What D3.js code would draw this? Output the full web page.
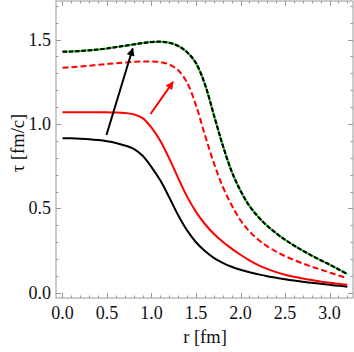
<!DOCTYPE html>
<html>
<head>
<meta charset="utf-8">
<script src="https://cdn.jsdelivr.net/npm/d3@7"></script>
<style>
  body { margin: 0; background: white; }
  text { font-family: "Liberation Serif", "DejaVu Serif", serif; fill: #111; }
</style>
</head>
<body>
<div id="chart"></div>
<script>
// radius samples (fm), 0.1 apart
var r = [0, 0.1, 0.2, 0.3, 0.4, 0.5, 0.6, 0.7, 0.8, 0.9, 1.0, 1.1, 1.2, 1.3, 1.4, 1.5, 1.6,
         1.7, 1.8, 1.9, 2.0, 2.1, 2.2, 2.3, 2.4, 2.5, 2.6, 2.7, 2.8, 2.9, 3.0, 3.1, 3.2];
// tau values (fm/c) per curve
var tauBlack = [0.915, 0.915, 0.913, 0.91, 0.905, 0.898, 0.888, 0.873, 0.853, 0.812, 0.745, 0.665, 0.565, 0.46, 0.37, 0.30, 0.248,
                0.208, 0.178, 0.155, 0.137, 0.122, 0.11, 0.099, 0.09, 0.081, 0.073, 0.066, 0.06, 0.054, 0.048, 0.042, 0.037];
var tauRed = [1.07, 1.07, 1.07, 1.07, 1.07, 1.069, 1.068, 1.065, 1.057, 1.035, 0.978, 0.90, 0.795, 0.68, 0.57, 0.48, 0.408,
              0.35, 0.303, 0.262, 0.226, 0.193, 0.165, 0.142, 0.123, 0.108, 0.096, 0.085, 0.076, 0.068, 0.06, 0.054, 0.048];
var tauRedDash = [1.333, 1.336, 1.34, 1.345, 1.35, 1.355, 1.36, 1.364, 1.368, 1.37, 1.37, 1.366, 1.352, 1.318, 1.245, 1.11, 0.935,
                  0.77, 0.63, 0.52, 0.43, 0.365, 0.315, 0.276, 0.245, 0.218, 0.195, 0.174, 0.155, 0.138, 0.121, 0.104, 0.087];
var tauTop = [1.428, 1.429, 1.432, 1.436, 1.441, 1.447, 1.455, 1.463, 1.471, 1.479, 1.485, 1.487, 1.481, 1.462, 1.425, 1.36, 1.235,
              1.055, 0.875, 0.72, 0.605, 0.515, 0.45, 0.397, 0.354, 0.315, 0.281, 0.25, 0.221, 0.194, 0.168, 0.14, 0.112];

var xTicks = [0, 0.5, 1.0, 1.5, 2.0, 2.5, 3.0];
var yTicks = [0, 0.5, 1.0, 1.5];

// arrows: [r0, tau0, r1, tau1]
var blackArrow = [0.494, 0.935, 0.789, 1.447];
var redArrow = [0.989, 1.059, 1.242, 1.249];

var W = 354, H = 352;
var svg = d3.select("#chart").append("svg").attr("width", W).attr("height", H);

var x = d3.scaleLinear().domain([-0.073, 3.264]).range([56, 353]);
var y = d3.scaleLinear().domain([-0.03, 1.728]).range([298, 1]);

var defs = svg.append("defs");
function marker(id, color) {
    defs.append("marker").attr("id", id).attr("viewBox", "0 0 10 10").attr("refX", 9).attr("refY", 5)
        .attr("markerWidth", 10).attr("markerHeight", 8).attr("markerUnits", "userSpaceOnUse").attr("orient", "auto")
        .append("path").attr("d", "M0,0 L10,5 L0,10 z").attr("fill", color);
}
marker("ab", "#000");
marker("ar", "#f00");

// frame and ticks
var frame = "#9a9a9a";
svg.append("rect").attr("x", 56).attr("y", 1).attr("width", 297).attr("height", 297)
    .attr("fill", "none").attr("stroke", frame).attr("stroke-width", 1);

var minorX = d3.range(0, 33).map(function (i) { return i / 10; });
var minorY = d3.range(0, 18).map(function (i) { return i / 10; });

function isMajor(v) { return Math.abs(v * 2 - Math.round(v * 2)) < 1e-6; }

var tg = svg.append("g").attr("stroke", frame).attr("stroke-width", 1);
minorX.forEach(function (v) {
    var len = isMajor(v) ? 5 : 2.5;
    var px = Math.round(x(v)) + 0.5;
    tg.append("line").attr("x1", px).attr("x2", px).attr("y1", 298).attr("y2", 298 - len);
    tg.append("line").attr("x1", px).attr("x2", px).attr("y1", 1).attr("y2", 1 + len);
});
minorY.forEach(function (v) {
    var len = isMajor(v) ? 5 : 2.5;
    var py = Math.round(y(v)) + 0.5;
    tg.append("line").attr("x1", 56).attr("x2", 56 + len).attr("y1", py).attr("y2", py);
    tg.append("line").attr("x1", 353).attr("x2", 353 - len).attr("y1", py).attr("y2", py);
});

svg.selectAll(".xl").data(xTicks).enter().append("text").attr("class", "xl")
    .attr("x", function (d) { return x(d); }).attr("y", 319)
    .attr("text-anchor", "middle").style("font-size", "18px")
    .text(function (d) { return d.toFixed(1); });

svg.selectAll(".yl").data(yTicks).enter().append("text").attr("class", "yl")
    .attr("x", 51).attr("y", function (d) { return y(d) + 6; })
    .attr("text-anchor", "end").style("font-size", "18px")
    .text(function (d) { return d.toFixed(1); });

svg.append("text").attr("x", 205).attr("y", 343).attr("text-anchor", "middle")
    .style("font-size", "18.5px").text("r [fm]");
svg.append("text").attr("transform", "translate(24,143) rotate(-90)").attr("text-anchor", "middle")
    .style("font-size", "18.5px").text("\u03c4 [fm/c]");

// curves
var line = d3.line().x(function (d) { return x(d[0]); }).y(function (d) { return y(d[1]); })
    .curve(d3.curveCatmullRom.alpha(0.5));
function pts(vals) { return r.map(function (rv, i) { return [rv, vals[i]]; }); }

var plot = svg.append("g");
plot.append("path").attr("d", line(pts(tauBlack))).attr("fill", "none").attr("stroke", "#000").attr("stroke-width", 2);
plot.append("path").attr("d", line(pts(tauRed))).attr("fill", "none").attr("stroke", "#f00").attr("stroke-width", 2);
plot.append("path").attr("d", line(pts(tauRedDash))).attr("fill", "none").attr("stroke", "#f00").attr("stroke-width", 2)
    .attr("stroke-dasharray", "6,3");
plot.append("path").attr("d", line(pts(tauTop))).attr("fill", "none").attr("stroke", "#1ee01e").attr("stroke-width", 2);
plot.append("path").attr("d", line(pts(tauTop))).attr("fill", "none").attr("stroke", "#000").attr("stroke-width", 2.2)
    .attr("stroke-dasharray", "4.5,1.8");

// arrows
plot.append("line").attr("x1", x(blackArrow[0])).attr("y1", y(blackArrow[1]))
    .attr("x2", x(blackArrow[2])).attr("y2", y(blackArrow[3]))
    .attr("stroke", "#000").attr("stroke-width", 2).attr("marker-end", "url(#ab)");
plot.append("line").attr("x1", x(redArrow[0])).attr("y1", y(redArrow[1]))
    .attr("x2", x(redArrow[2])).attr("y2", y(redArrow[3]))
    .attr("stroke", "#f00").attr("stroke-width", 2).attr("marker-end", "url(#ar)");
</script>
</body>
</html>
